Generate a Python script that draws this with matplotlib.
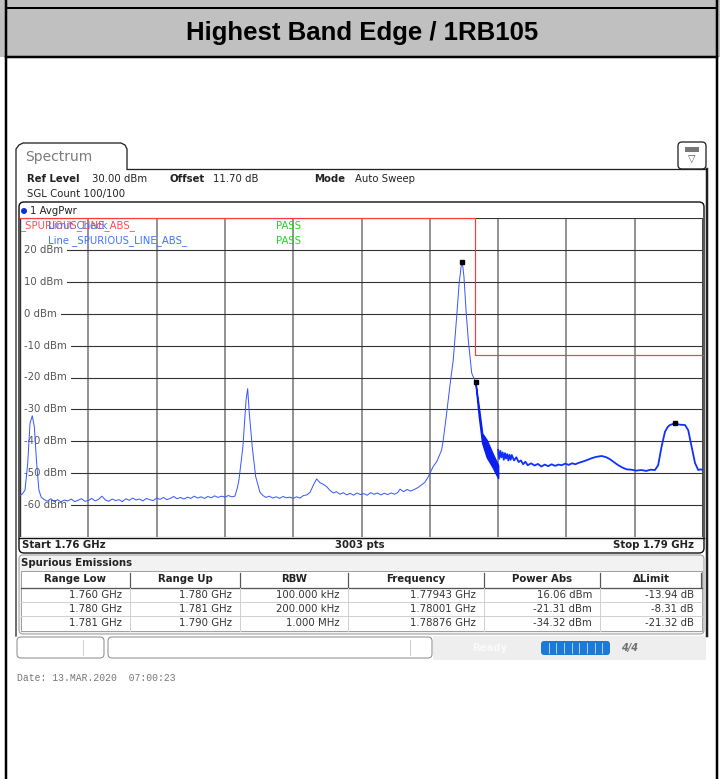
import numpy as np
import matplotlib.pyplot as plt
from matplotlib.patches import FancyBboxPatch, Rectangle, Circle

# ---- values ----
title = 'Highest Band Edge / 1RB105'

# segment 1: 1.760 - 1.780 GHz (RBW 100 kHz)
seg1_mhz = [1760.00, 1760.10, 1760.22, 1760.34, 1760.44, 1760.54, 1760.63, 1760.73, 1760.83, 1760.93,
            1761.05, 1761.20, 1761.35, 1761.50, 1761.65, 1761.80, 1761.95, 1762.10, 1762.25, 1762.40,
            1762.55, 1762.70, 1762.85, 1763.00, 1763.15, 1763.30, 1763.45, 1763.60, 1763.75, 1763.90,
            1764.05, 1764.20, 1764.35, 1764.50, 1764.65, 1764.80, 1764.95, 1765.10, 1765.25, 1765.40,
            1765.55, 1765.70, 1765.85, 1766.00, 1766.15, 1766.30, 1766.45, 1766.60, 1766.75, 1766.90,
            1767.05, 1767.20, 1767.35, 1767.50, 1767.65, 1767.80, 1767.95, 1768.10, 1768.25, 1768.40,
            1768.55, 1768.70, 1768.85, 1769.00, 1769.15, 1769.30, 1769.44, 1769.55, 1769.62, 1769.79,
            1769.93, 1770.00, 1770.07, 1770.20, 1770.35, 1770.54, 1770.67, 1770.80, 1770.95, 1771.10,
            1771.25, 1771.40, 1771.55, 1771.70, 1771.85, 1772.00, 1772.15, 1772.30, 1772.45, 1772.60,
            1772.74, 1772.90, 1773.03, 1773.18, 1773.30, 1773.47, 1773.60, 1773.76, 1773.90, 1774.05,
            1774.20, 1774.35, 1774.50, 1774.65, 1774.80, 1774.95, 1775.10, 1775.25, 1775.40, 1775.55,
            1775.70, 1775.85, 1776.00, 1776.15, 1776.30, 1776.45, 1776.60, 1776.69, 1776.85, 1777.00,
            1777.15, 1777.35, 1777.50, 1777.65, 1777.79, 1777.90, 1778.01, 1778.14, 1778.30, 1778.37,
            1778.52, 1778.59, 1778.70, 1778.81, 1778.92, 1779.03, 1779.18, 1779.29, 1779.38, 1779.43,
            1779.50, 1779.59, 1779.69, 1779.84, 1780.00]
seg1_dbm = [-57.0, -56.5, -55.3, -46.8, -34.3, -32.0, -35.5, -46.8, -55.3, -57.5,
            -58.2, -58.8, -58.0, -58.9, -58.3, -59.0, -58.4, -58.7, -58.1, -58.9,
            -58.5, -58.0, -58.8, -58.6, -57.9, -58.7, -58.2, -57.2, -58.4, -58.8,
            -58.1, -58.6, -58.3, -58.9, -58.0, -58.5, -57.8, -58.4, -58.1, -58.7,
            -57.9, -58.3, -58.6, -57.8, -58.2, -57.6, -58.3, -57.9, -57.3, -58.0,
            -57.6, -58.1, -57.5, -57.9, -57.2, -57.8, -57.4, -57.9, -57.3, -57.7,
            -57.1, -57.6, -57.2, -57.5, -57.0, -57.4, -57.2, -54.5, -52.0, -41.7,
            -27.0, -23.5, -31.0, -41.7, -51.0, -56.0, -57.0, -57.6, -57.2, -57.8,
            -57.4, -57.9, -57.3, -57.7, -57.5, -57.9, -57.4, -57.8, -57.0, -56.8,
            -56.0, -53.5, -51.8, -53.0, -53.4, -54.2, -55.3, -56.2, -55.8, -56.6,
            -56.1, -56.8, -56.3, -56.9, -56.2, -56.7, -56.4, -56.9, -56.1, -56.6,
            -56.2, -56.8, -56.3, -56.7, -56.2, -56.6, -56.0, -55.0, -55.8, -55.1,
            -55.6, -55.0, -54.4, -53.6, -52.8, -51.5, -50.0, -48.0, -46.4, -45.3,
            -42.7, -39.6, -33.5, -27.0, -20.5, -14.5, -1.0, 9.6, 15.0, 16.06,
            11.6, 1.2, -8.2, -18.6, -21.3]

# segment 2: 1.780 - 1.781 GHz (RBW 200 kHz), dense noisy band
seg2_mhz = [1780.00, 1780.15, 1780.30, 1780.50, 1780.75, 1781.00]
seg2_hi = [-21.3, -29.1, -37.5, -39.6, -43.7, -47.5]
seg2_lo = [-21.3, -32.0, -40.5, -45.0, -48.0, -51.5]

# segment 3: 1.781 - 1.790 GHz (RBW 1 MHz)
seg3_mhz = [1781.00, 1781.05, 1781.10, 1781.15, 1781.20, 1781.25, 1781.30, 1781.35, 1781.40, 1781.45,
            1781.50, 1781.55, 1781.60, 1781.70, 1781.80, 1781.90, 1782.00, 1782.10, 1782.20, 1782.30,
            1782.45, 1782.60, 1782.75, 1782.90, 1783.05, 1783.20, 1783.35, 1783.50, 1783.65, 1783.79,
            1783.95, 1784.10, 1784.25, 1784.40, 1784.52, 1784.70, 1784.90, 1785.11, 1785.30, 1785.55,
            1785.75, 1785.91, 1786.10, 1786.28, 1786.45, 1786.65, 1786.85, 1787.05, 1787.30, 1787.50,
            1787.70, 1787.89, 1788.03, 1788.18, 1788.33, 1788.45, 1788.55, 1788.70, 1788.84, 1789.00,
            1789.21, 1789.35, 1789.50, 1789.65, 1789.79, 1789.90, 1790.00]
seg3_dbm = [-42.7, -45.5, -43.0, -45.0, -43.5, -45.8, -43.7, -45.4, -44.0, -46.0,
            -44.2, -45.8, -44.3, -46.0, -45.0, -46.5, -46.0, -47.2, -46.4, -47.5,
            -46.9, -47.6, -47.1, -47.9, -47.3, -47.8, -47.2, -47.7, -47.3, -47.5,
            -47.0, -47.4, -46.9, -47.2, -46.8, -46.4, -45.9, -45.3, -44.9, -44.6,
            -45.0, -45.6, -46.6, -47.5, -48.2, -48.8, -48.9, -49.2, -49.0, -49.3,
            -48.9, -49.0, -47.5, -41.7, -37.0, -35.5, -34.9, -34.5, -34.6, -34.8,
            -34.9, -36.5, -41.7, -46.8, -49.0, -48.8, -49.0]

limit_mhz = [1760, 1780, 1780, 1790]
limit_dbm = [30, 30, -13, -13]

marker_mhz = [1779.43, 1780.01, 1788.76]
marker_dbm = [16.06, -21.31, -34.32]

level_labels = [20, 10, 0, -10, -20, -30, -40, -50, -60]

col_names = ['Range Low', 'Range Up', 'RBW', 'Frequency', 'Power Abs', 'ΔLimit']
range_low = ['1.760 GHz', '1.780 GHz', '1.781 GHz']
range_up = ['1.780 GHz', '1.781 GHz', '1.790 GHz']
rbw = ['100.000 kHz', '200.000 kHz', '1.000 MHz']
peak_freq = ['1.77943 GHz', '1.78001 GHz', '1.78876 GHz']
power_abs = ['16.06 dBm', '-21.31 dBm', '-34.32 dBm']
delta_limit = ['-13.94 dB', '-8.31 dB', '-21.32 dB']

# ---- figure in pixel units ----
W, H = 720, 779
fig = plt.figure(figsize=(W / 100, H / 100), dpi=100)
bg = fig.add_axes([0, 0, 1, 1])
bg.set_xlim(0, W)
bg.set_ylim(H, 0)
bg.axis('off')
PX = 0.72  # one pixel in points

# page header
bg.add_patch(Rectangle((0, 0), W, 57, fc='#c0c0c0', ec='none'))
bg.plot([6, 717], [8, 8], color='black', lw=2 * PX)
bg.plot([6, 717], [57, 57], color='black', lw=2.5 * PX)
bg.plot([6, 6], [0, H], color='black', lw=2.5 * PX)
bg.plot([717, 717], [0, H], color='black', lw=2.5 * PX)
bg.text(362, 33, title, ha='center', va='center', fontsize=18.5, fontweight='bold',
        family='Liberation Sans', color='black')

# spectrum panel frame with tab
bg.plot([16, 16, 19, 23, 121, 125, 127, 127, 706],
        [636, 149, 145, 143, 143, 145, 149, 169.5, 169.5], color='#222', lw=1.3 * PX)
bg.plot([707, 707], [169, 636], color='#222', lw=2.5 * PX)
bg.text(25, 157, 'Spectrum', fontsize=10, color='#7a7a7a', va='center')
bg.add_patch(FancyBboxPatch((678, 142), 28, 27, boxstyle='round,pad=0,rounding_size=4',
                            fc='white', ec='#222', lw=1.3 * PX))
bg.add_patch(Rectangle((685, 147), 14, 5, fc='#777', ec='none'))
bg.text(692, 159, '▽', ha='center', va='center', fontsize=7, color='#555')

ui = dict(fontsize=7.3, va='center', color='#222')
bg.text(27, 179, 'Ref Level', fontweight='bold', **ui)
bg.text(92, 179, '30.00 dBm', **ui)
bg.text(169, 179, 'Offset', fontweight='bold', **ui)
bg.text(213, 179, '11.70 dB', **ui)
bg.text(314, 179, 'Mode', fontweight='bold', **ui)
bg.text(355, 179, 'Auto Sweep', **ui)
bg.text(27, 194, 'SGL Count 100/100', **ui)

# diagram box
bg.add_patch(FancyBboxPatch((19, 202), 685, 351, boxstyle='round,pad=0,rounding_size=5',
                            fc='none', ec='#111', lw=1.4 * PX))
bg.add_patch(Circle((24, 211), 3, fc='#1030e0', ec='none'))
bg.text(30, 211, '1 AvgPwr', **ui)
bg.plot([19, 704], [537.5, 537.5], color='#111', lw=1.4 * PX)
bg.text(22, 545, 'Start 1.76 GHz', fontweight='bold', **ui)
bg.text(360, 545, '3003 pts', fontweight='bold', ha='center', fontsize=7.3, va='center', color='#222')
bg.text(694, 545, 'Stop 1.79 GHz', fontweight='bold', ha='right', fontsize=7.3, va='center', color='#222')

# spectrum axes
ax = fig.add_axes([20 / W, 1 - 537 / H, 683 / W, 319 / H])
ax.set_xlim(1760, 1790)
ax.set_ylim(-70, 30)
ax.axis('off')
for f in np.linspace(1760, 1790, 11):
    ax.axvline(f, color='#7a7a7a', lw=1.6 * PX, zorder=1)
for lv in range(-70, 31, 10):
    ax.axhline(lv, color='#333', lw=1.1 * PX, zorder=1)
for lv in level_labels:
    ax.text(0.006, lv, f'{lv} dBm', transform=ax.get_yaxis_transform(), va='center',
            fontsize=7.3, color='#555', zorder=2,
            bbox=dict(boxstyle='square,pad=0.42', fc='white', ec='none'))
# left / right grid edges stay on top of the label boxes
ax.axvline(1760, color='#333', lw=1.4 * PX, zorder=3)
ax.axvline(1790, color='#444', lw=1.8 * PX, zorder=3)

ax.plot(limit_mhz, limit_dbm, color='#ff3b3b', lw=1.2 * PX, zorder=3, clip_on=False)
ax.text(0.0, 27.5, '_SPURIOUS_LINE_ABS_', transform=ax.get_yaxis_transform(),
        fontsize=7.3, color='#ff4a4a', va='center', zorder=4)
ax.text(0.041, 27.5, 'Limit Check', transform=ax.get_yaxis_transform(),
        fontsize=7.3, color='#3f74ff', va='center', zorder=4)
ax.text(0.041, 22.8, 'Line _SPURIOUS_LINE_ABS_', transform=ax.get_yaxis_transform(),
        fontsize=7.3, color='#3f74ff', va='center', zorder=4)
for yv in (27.5, 22.8):
    ax.text(0.375, yv, 'PASS', transform=ax.get_yaxis_transform(),
            fontsize=7.3, color='#22d422', va='center', zorder=4)

ax.plot(seg1_mhz, seg1_dbm, color='#3a58ff', lw=1.0 * PX, zorder=5)
ax.fill_between(seg2_mhz, seg2_lo, seg2_hi, color='#0a1ef0', lw=1.5 * PX, zorder=5)
ax.plot(seg3_mhz, seg3_dbm, color='#1030ff', lw=1.8 * PX, zorder=5)
ax.plot(marker_mhz, marker_dbm, 's', color='black', ms=3.2, zorder=6)

# spurious emissions table
bg.add_patch(FancyBboxPatch((19, 555), 685, 79, boxstyle='round,pad=0,rounding_size=4',
                            fc='#f2f2f2', ec='#9a9a9a', lw=1 * PX))
bg.text(21, 563, 'Spurious Emissions', fontweight='bold', **ui)
bg.add_patch(Rectangle((21, 571), 681, 60, fc='white', ec='#a0a0a0', lw=1 * PX))
col_edges = [21, 130, 240, 348, 484, 600, 702]
row_y = [595, 609, 623]
for yy in (602, 616):
    bg.plot([21, 702], [yy, yy], color='#d0d0d0', lw=1 * PX)
bg.plot([21, 702], [587.5, 587.5], color='#555', lw=1.3 * PX)
for xe in col_edges[1:-1]:
    bg.plot([xe, xe], [573, 587], color='#555', lw=1.2 * PX)
    bg.plot([xe, xe], [588, 631], color='#d0d0d0', lw=1 * PX)
bg.plot([701, 701], [573, 587], color='#555', lw=1.2 * PX)
for i, name in enumerate(col_names):
    bg.text((col_edges[i] + col_edges[i + 1]) / 2, 579, name, ha='center', fontweight='bold', **ui)
columns = [range_low, range_up, rbw, peak_freq, power_abs, delta_limit]
for i, col in enumerate(columns):
    for j, val in enumerate(col):
        bg.text(col_edges[i + 1] - 8, row_y[j], val, ha='right', fontsize=7.3, va='center', color='#333')

# status bar
bg.add_patch(FancyBboxPatch((17, 637), 87, 21, boxstyle='round,pad=0,rounding_size=4',
                            fc='white', ec='#8a8a8a', lw=1 * PX))
bg.plot([83, 83], [640, 655], color='#cfcfcf', lw=1 * PX)
bg.add_patch(FancyBboxPatch((108, 637), 324, 21, boxstyle='round,pad=0,rounding_size=4',
                            fc='white', ec='#8a8a8a', lw=1 * PX))
bg.plot([410, 410], [640, 655], color='#cfcfcf', lw=1 * PX)
bg.add_patch(Rectangle((433, 636), 273, 24, fc='#eeeeee', ec='none'))
bg.text(490, 648, 'Ready', ha='center', va='center', fontsize=7.3, fontweight='bold', color='#fafafa')
bg.add_patch(FancyBboxPatch((541, 641), 69, 14, boxstyle='round,pad=0,rounding_size=3',
                            fc='#1a7ad6', ec='none'))
for k in range(1, 9):
    xs = 541 + k * 69 / 9
    bg.plot([xs, xs], [643, 653], color='#cfe3f7', lw=0.8 * PX)
bg.text(630, 648, '4/4', ha='center', va='center', fontsize=7, fontweight='bold',
        style='italic', color='#707070')

bg.text(17, 678, 'Date: 13.MAR.2020  07:00:23', family='Liberation Mono', fontsize=7,
        color='#777', va='center')

fig.savefig('out.png', dpi=100)
